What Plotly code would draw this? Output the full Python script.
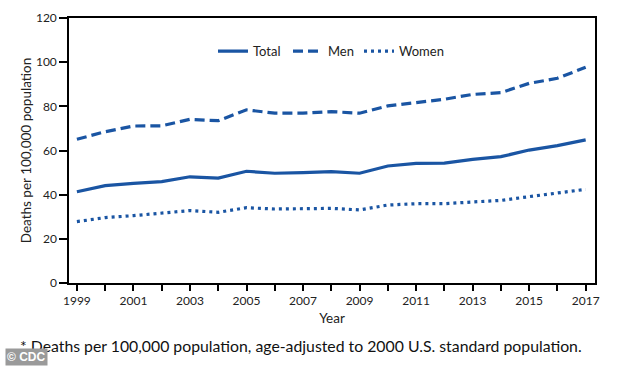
import plotly.graph_objects as go

years = list(range(1999, 2018))
total = [41.3, 44.1, 45.1, 45.9, 48.1, 47.5, 50.6, 49.7, 50.0, 50.4, 49.7, 53.0, 54.2, 54.3, 56.0, 57.2, 60.2, 62.2, 64.8]
men = [65.1, 68.5, 71.1, 71.2, 74.1, 73.5, 78.4, 76.9, 76.9, 77.6, 76.9, 80.2, 81.7, 83.2, 85.4, 86.2, 90.4, 92.7, 97.7]
women = [27.8, 29.6, 30.5, 31.6, 32.8, 32.0, 34.1, 33.5, 33.8, 33.8, 33.1, 35.3, 35.9, 35.9, 36.7, 37.4, 39.1, 40.6, 42.4]
x_tick_labels = [str(y) if (y - 1999) % 2 == 0 else "" for y in years]
y_ticks = [0, 20, 40, 60, 80, 100, 120]

color = "#1a55a3"
font = "Lato, 'Open Sans', sans-serif"
txt = "#222"

fig = go.Figure()
fig.add_trace(go.Scatter(x=years, y=total, name="Total", mode="lines", legend="legend",
                         line=dict(color=color, width=3.2, dash="solid")))
fig.add_trace(go.Scatter(x=years, y=men, name="Men", mode="lines", legend="legend2",
                         line=dict(color=color, width=3.2, dash="10px,5px")))
fig.add_trace(go.Scatter(x=years, y=women, name="Women", mode="lines", legend="legend3",
                         line=dict(color=color, width=3.2, dash="3px,4px")))

def leg(px):
    return dict(orientation="h", x=(px - 69) / 526, y=0.875, xanchor="left", yanchor="middle",
                bgcolor="rgba(0,0,0,0)", font=dict(size=13, color=txt), itemwidth=30)

fig.update_layout(
    width=634, height=366,
    margin=dict(l=69, r=39, t=18, b=83, autoexpand=False),
    paper_bgcolor="white", plot_bgcolor="white",
    font=dict(family=font, size=12, color=txt),
    showlegend=True,
    legend=leg(213), legend2=leg(288), legend3=leg(359),
    xaxis=dict(range=[1998.72, 2017.33], tickmode="array", tickvals=years, ticktext=x_tick_labels,
               showgrid=False, zeroline=False, showline=True, linecolor="black", linewidth=1.5,
               mirror=True, ticks="outside", ticklen=6, tickwidth=1.5, tickcolor="black",
               automargin=False,
               title=dict(text="Year", font=dict(size=13.5, color=txt), standoff=6),
               tickfont=dict(size=12, color=txt)),
    yaxis=dict(range=[0, 120], tickmode="array", tickvals=y_ticks,
               showgrid=False, zeroline=False, showline=True, linecolor="black", linewidth=1.5,
               mirror=True, ticks="outside", ticklen=8, tickwidth=1.5, tickcolor="black",
               automargin=False,
               title=dict(text="Deaths per 100,000 population", font=dict(size=13.5, color=txt), standoff=1),
               tickfont=dict(size=12, color=txt)),
)

fig.add_annotation(text="* Deaths per 100,000 population, age-adjusted to 2000 U.S. standard population.",
                   xref="paper", yref="paper", x=(18 - 69) / 526, y=(283 - 345) / 265, xanchor="left", yanchor="middle",
                   showarrow=False, font=dict(size=15.8, color="#111", family=font))
fig.add_annotation(text="<b>© CDC</b>", xref="paper", yref="paper", x=(5 - 69) / 526, y=(283 - 366) / 265,
                   xanchor="left", yanchor="bottom", showarrow=False,
                   bgcolor="#9a9a9a", font=dict(size=12, color="white", family="Arial, sans-serif"),
                   borderpad=1)

fig.write_html("out.html", config={"displayModeBar": False},
               post_script="document.body.style.margin='0';document.body.style.overflow='hidden';")
